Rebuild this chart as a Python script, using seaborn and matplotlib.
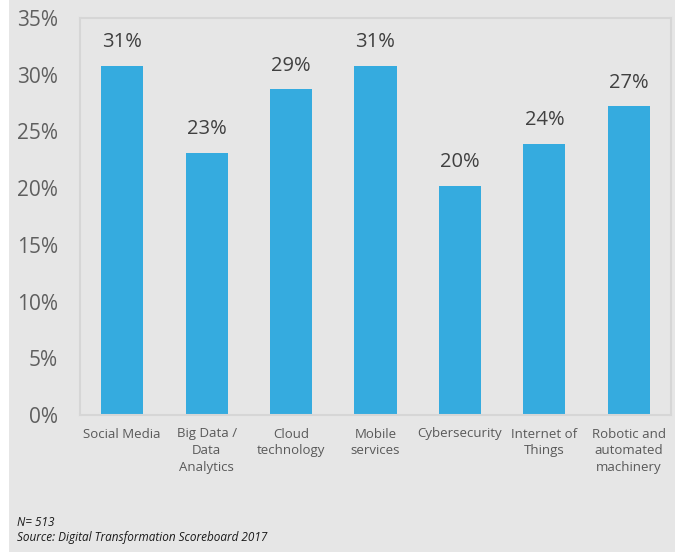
import matplotlib
matplotlib.use("Agg")
import matplotlib.pyplot as plt
from matplotlib.patches import Rectangle
import pandas as pd
import seaborn as sns

# Daten
categories = [
    "Social Media",
    "Big Data /\nData\nAnalytics",
    "Cloud\ntechnology",
    "Mobile\nservices",
    "Cybersecurity",
    "Internet of\nThings",
    "Robotic and\nautomated\nmachinery",
]
values = [30.8, 23.1, 28.7, 30.8, 20.2, 23.9, 27.2]
value_labels = ["31%", "23%", "29%", "31%", "20%", "24%", "27%"]
y_ticks = [0, 5, 10, 15, 20, 25, 30, 35]

df = pd.DataFrame({"category": categories, "value": values})

sns.set_theme(style="white")
plt.rcParams["font.family"] = ["Open Sans", "DejaVu Sans"]

bg = "#e6e6e6"
fig = plt.figure(figsize=(6.81, 5.52), dpi=100)
fig.patch.set_facecolor("white")
fig.add_artist(Rectangle((9 / 681, 0), 666 / 681, 1, transform=fig.transFigure,
                         facecolor=bg, edgecolor="none", zorder=0))

ax = fig.add_axes([80 / 681, 1 - 415 / 552, 591 / 681, 397 / 552])
ax.set_facecolor(bg)

sns.barplot(data=df, x="category", y="value", color="#35abdf", saturation=1,
            width=0.5, linewidth=0, ax=ax)

for i, (v, lab) in enumerate(zip(values, value_labels)):
    ax.text(i, v + 1.2, lab, ha="center", va="bottom", fontsize=14.5, color="#404040")

ax.set_ylim(0, 35)
ax.set_xlim(-0.5, len(categories) - 0.5)
ax.set_yticks(y_ticks)
ax.set_yticklabels([f"{t}%" for t in y_ticks], fontsize=15, color="#5f5f5f")
ax.tick_params(axis="y", length=0, pad=16)
ax.tick_params(axis="x", length=0, pad=9, labelsize=9.5, labelcolor="#595959")
for t in ax.get_xticklabels():
    t.set_linespacing(1.35)
ax.set_xlabel("")
ax.set_ylabel("")
for s in ax.spines.values():
    s.set_color("#d6d6d6")
    s.set_linewidth(1.5)

fig.text(17 / 681, 1 - 522 / 552, "N= 513", fontsize=8.5, style="italic",
         color="#1a1a1a", va="center")
fig.text(17 / 681, 1 - 538 / 552, "Source: Digital Transformation Scoreboard 2017",
         fontsize=8.5, style="italic", color="#1a1a1a", va="center")

fig.savefig("out.png", dpi=100)
